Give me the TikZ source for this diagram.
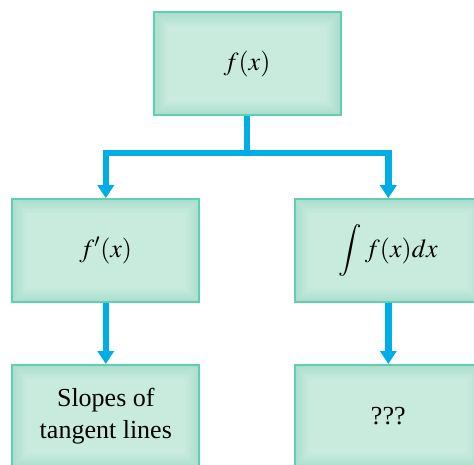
\documentclass[tikz,border=0pt]{standalone}
\usepackage{mathptmx}
\usepackage{fontspec}
\setmainfont{Liberation Serif}
\usetikzlibrary{arrows.meta}

\definecolor{boxrim}{HTML}{ABDECD}
\definecolor{boxcore}{HTML}{C8EBDE}
\definecolor{boxedge}{HTML}{5ECFB4}
\definecolor{flowblue}{HTML}{00AEE6}

\tikzset{
  box/.style={
    draw=boxedge, line width=2pt, fill=boxrim,
    minimum width=187pt, minimum height=103pt, inner sep=0pt,
    align=center, font=\fontsize{26}{32}\selectfont,
    % soft glow: lighter towards the middle of the box
    path picture={
      \foreach \k [evaluate=\k as \pc using \k*12.5] in {0,...,8}
        \fill[boxcore!\pc!boxrim]
          ([shift={(\k*1.7pt,-\k*1.7pt)}]path picture bounding box.north west)
          rectangle
          ([shift={(-\k*1.7pt,\k*1.7pt)}]path picture bounding box.south east);
    }
  },
  flow/.style={draw=flowblue, line width=6.5pt, line join=miter},
  flowtip/.style={flow, -{Triangle[length=13pt,width=16pt]}}
}

\begin{document}
\begin{tikzpicture}[x=1pt,y=-1pt]
  \useasboundingbox (0,0) rectangle (474,465);
  \clip (0,0) rectangle (474,465);

  % boxes
  \node[box] (fx)    at (247,64)      {$f(x)$};
  \node[box] (deriv) at (105.8,250.7) {$f'(x)$};
  \node[box] (integ) at (388.3,250.7) {$\displaystyle\int f(x)dx$};
  \node[box] (slope) at (105.8,416.5) {Slopes of\\tangent lines};
  \node[box] (unk)   at (388.3,416.5) {???};

  % branching connector from f(x)
  \draw[flow] (fx.south) -- (fx.south |- 0,153) coordinate (hub);
  \draw[flowtip] (hub) -| (deriv.north);
  \draw[flowtip] (hub) -| (integ.north);

  % lower arrows
  \draw[flowtip] (deriv.south) -- (slope.north);
  \draw[flowtip] (integ.south) -- (unk.north);
\end{tikzpicture}
\end{document}
